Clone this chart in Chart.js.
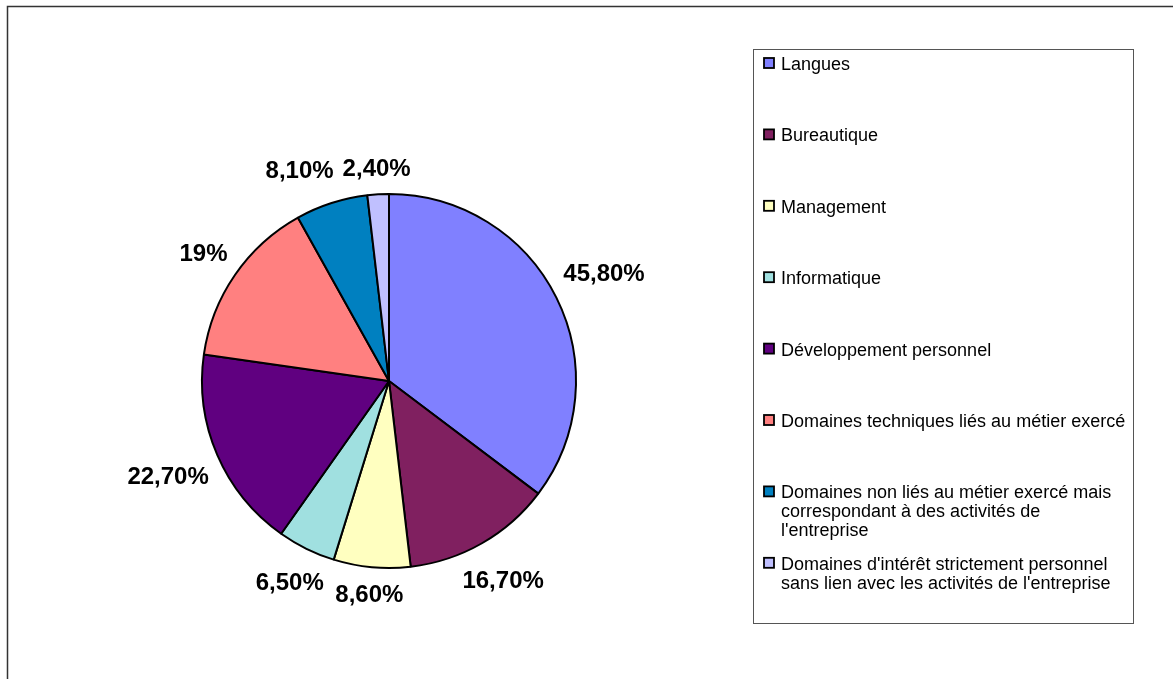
<!DOCTYPE html>
<html>
<head>
<meta charset="utf-8">
<script src="https://cdn.jsdelivr.net/npm/chart.js@4/dist/chart.umd.min.js"></script>
<style>
  html,body{margin:0;padding:0;background:#fff;}
  #wrap{position:relative;width:1173px;height:679px;overflow:hidden;}
</style>
</head>
<body>
<div id="wrap"><canvas id="chart" width="1173" height="679"></canvas></div>
<script>
// values (they add up to more than 100, slices are drawn from them as is)
const categories = [
  'Langues',
  'Bureautique',
  'Management',
  'Informatique',
  'Développement personnel',
  'Domaines techniques liés au métier exercé',
  "Domaines non liés au métier exercé mais correspondant à des activités de l'entreprise",
  "Domaines d'intérêt strictement personnel sans lien avec les activités de l'entreprise"
];
const values = [45.8, 16.7, 8.6, 6.5, 22.7, 19, 8.1, 2.4];
const colors = ['#8080FF', '#802060', '#FFFFC0', '#A0E0E0', '#600080', '#FF8080', '#0080C0', '#C0C0FF'];

const FONT = '"Liberation Sans", Arial, sans-serif';
const fmt = v => Number.isInteger(v) ? v + '%' : v.toFixed(2).replace('.', ',') + '%';

// Excel-style value labels outside the slices
const outsideLabels = {
  id: 'outsideLabels',
  afterDatasetsDraw(chart){
    const ctx = chart.ctx;
    const arcs = chart.getDatasetMeta(0).data;
    ctx.save();
    ctx.font = 'bold 24px ' + FONT;
    ctx.fillStyle = '#000';
    ctx.textAlign = 'center';
    ctx.textBaseline = 'middle';
    const boxes = arcs.map((a, i)=>{
      const txt = fmt(values[i]);
      const w = ctx.measureText(txt).width;
      const mid = (a.startAngle + a.endAngle) / 2;
      const dx = Math.cos(mid), dy = Math.sin(mid);
      const d = a.outerRadius + 11 + (w/2)*Math.abs(dx) + 13*Math.abs(dy);
      return { txt, w, h: 20, cx: a.x + d*dx, cy: a.y + d*dy };
    });
    // push apart labels that collide with the next one
    for(let i = boxes.length-2; i >= 0; i--){
      const b = boxes[i], n = boxes[i+1];
      const ox = (b.w + n.w)/2 - Math.abs(b.cx - n.cx);
      const oy = (b.h + n.h)/2 - Math.abs(b.cy - n.cy);
      if(ox > 0 && oy > 0) b.cx += (b.cx < n.cx ? -1 : 1) * (ox + 9);
    }
    boxes.forEach(b=>ctx.fillText(b.txt, b.cx, b.cy + 1));
    ctx.restore();
  }
};

function wrap(ctx, text, maxW){
  const words = text.split(' ');
  const lines = [];
  let cur = '';
  words.forEach(w=>{
    const t = cur ? cur + ' ' + w : w;
    if(cur && ctx.measureText(t).width > maxW){ lines.push(cur); cur = w; }
    else cur = t;
  });
  if(cur) lines.push(cur);
  return lines;
}

// frame + boxed legend on the right
const frameLegend = {
  id: 'frameLegend',
  beforeDraw(chart){
    const ctx = chart.ctx;
    ctx.save();
    ctx.fillStyle = '#fff';
    ctx.fillRect(0, 0, chart.width, chart.height);
    ctx.strokeStyle = '#333';
    ctx.lineWidth = 1.5;
    ctx.strokeRect(7.5, 6.5, chart.width + 20, chart.height + 20);
    ctx.restore();
  },
  afterDraw(chart){
    const ctx = chart.ctx;
    const box = { x: 753.5, y: 49.5, w: 380, h: 574 };
    ctx.save();
    ctx.strokeStyle = '#555';
    ctx.lineWidth = 1;
    ctx.strokeRect(box.x, box.y, box.w, box.h);
    ctx.font = '18px ' + FONT;
    ctx.textBaseline = 'middle';
    ctx.textAlign = 'left';
    const step = 71.4, lineH = 19;
    categories.forEach((c, i)=>{
      const y = box.y + 14 + i*step;
      ctx.fillStyle = colors[i];
      ctx.fillRect(764, y - 5.5, 10, 10);
      ctx.strokeStyle = '#000';
      ctx.lineWidth = 1.8;
      ctx.strokeRect(764, y - 5.5, 10, 10);
      ctx.fillStyle = '#000';
      wrap(ctx, c, 346).forEach((ln, k)=>ctx.fillText(ln, 781, y + 1.5 + k*lineH));
    });
    ctx.restore();
  }
};

new Chart(document.getElementById('chart'), {
  type: 'pie',
  data: {
    labels: categories,
    datasets: [{
      data: values,
      backgroundColor: colors,
      borderColor: '#000',
      borderWidth: 2,
      radius: 187
    }]
  },
  options: {
    responsive: false,
    animation: false,
    layout: { padding: { left: 100, right: 495, top: 100, bottom: 17 } },
    plugins: { legend: { display: false }, tooltip: { enabled: false } }
  },
  plugins: [frameLegend, outsideLabels]
});
</script>
</body>
</html>
